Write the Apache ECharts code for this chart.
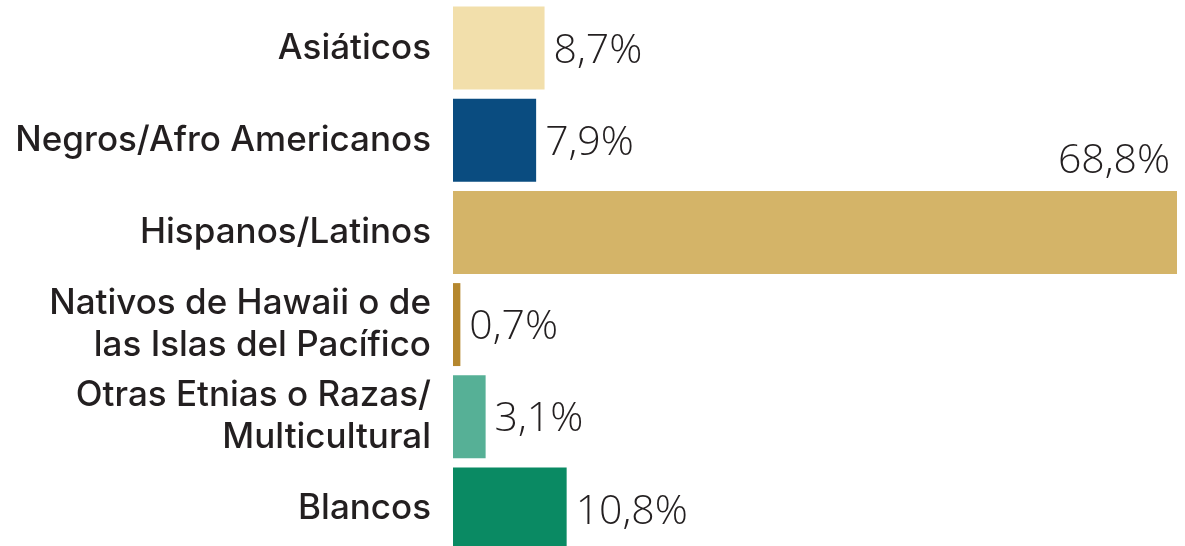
<!DOCTYPE html>
<html lang="es">
<head>
    <meta charset="UTF-8">
    <title>Etnias</title>
    <style>
        html,body{padding:0;margin:0;background:#fff;overflow:hidden;}
        #chart{width:1185px;height:556px;}
    </style>
    <script src="https://cdn.jsdelivr.net/npm/echarts@6/dist/echarts.min.js"></script>
</head>
<body>
<div id="chart"></div>
<script>
    var categories = [
        'Asiáticos',
        'Negros/Afro Americanos',
        'Hispanos/Latinos',
        'Nativos de Hawaii o de\nlas Islas del Pacífico',
        'Otras Etnias o Razas/\nMulticultural',
        'Blancos'
    ];
    var values = [8.7, 7.9, 68.8, 0.7, 3.1, 10.8];
    var palette = ['#f2dfab', '#0a4c80', '#d4b468', '#b5872e', '#56b096', '#0a8a63'];

    var maxVal = Math.max.apply(null, values);
    var fmt = function (v) { return v.toFixed(1).replace('.', ',') + '%'; };

    var data = values.map(function (v, i) {
        var item = { value: v, itemStyle: { color: palette[i] } };
        if (v === maxVal) {
            // big bar gets its label above the right end
            item.label = {
                position: ['100%', 0],
                align: 'right',
                verticalAlign: 'bottom',
                offset: [-7, -9]
            };
        }
        return item;
    });

    var myChart = echarts.init(document.getElementById('chart'));
    myChart.setOption({
        animation: false,
        grid: { left: 453, right: 8, top: 2, bottom: 1, containLabel: false },
        xAxis: { type: 'value', min: 0, max: maxVal, show: false },
        yAxis: {
            type: 'category',
            inverse: true,
            data: categories,
            axisLine: { show: false },
            axisTick: { show: false },
            axisLabel: {
                margin: 22,
                fontFamily: 'Inter',
                fontWeight: 500,
                fontSize: 35,
                lineHeight: 42,
                color: '#231f20',
                align: 'right'
            }
        },
        series: [{
            type: 'bar',
            data: data,
            barCategoryGap: '10%',
            label: {
                show: true,
                position: 'right',
                distance: 9,
                offset: [0, 3],
                formatter: function (p) { return fmt(p.value); },
                fontFamily: 'Open Sans',
                fontWeight: 300,
                fontSize: 41,
                color: '#231f20'
            }
        }]
    });
</script>
</body>
</html>
